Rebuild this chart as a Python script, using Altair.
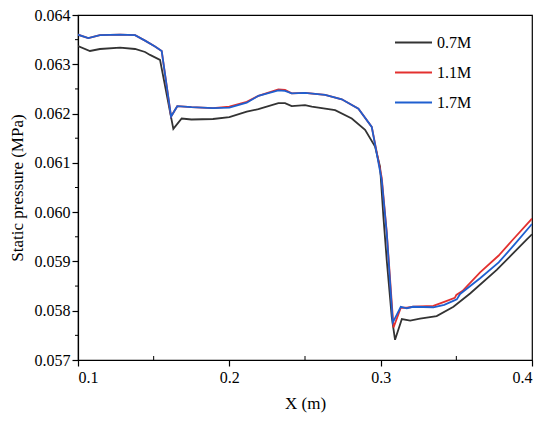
import altair as alt
import pandas as pd

# 0.7M series
x_07 = [0.100, 0.1079, 0.1145, 0.1278, 0.1377, 0.1443, 0.1476, 0.1542, 0.1630, 0.1685,
        0.175, 0.1892, 0.200, 0.2115, 0.2192, 0.2324, 0.2368, 0.2412, 0.2500, 0.2545,
        0.2699, 0.2809, 0.2897, 0.2963, 0.2996, 0.3018, 0.3040, 0.3073, 0.3095, 0.3140,
        0.3195, 0.3260, 0.3370, 0.3481, 0.3591, 0.3767, 0.3961, 0.400]
y_07 = [0.06337, 0.06327, 0.06331, 0.06334, 0.06331, 0.06325, 0.06319, 0.06309, 0.06169, 0.06190,
        0.06188, 0.06189, 0.06193, 0.06204, 0.06209, 0.06221, 0.06221, 0.06215, 0.06217, 0.06214,
        0.06207, 0.06190, 0.06167, 0.06133, 0.06092, 0.05991, 0.05903, 0.05788, 0.05741, 0.05783,
        0.05780, 0.05784, 0.05789, 0.05808, 0.05835, 0.05883, 0.05943, 0.05955]

# 1.1M series
x_11 = [0.100, 0.1068, 0.1145, 0.1278, 0.1377, 0.1443, 0.1509, 0.1553, 0.1615, 0.1656,
        0.175, 0.1892, 0.200, 0.2115, 0.2192, 0.2324, 0.2368, 0.2412, 0.2500, 0.2633,
        0.2743, 0.2853, 0.2941, 0.3007, 0.3040, 0.3085, 0.3133, 0.3173, 0.3214, 0.3348,
        0.3420, 0.3490, 0.3500, 0.3540, 0.3657, 0.3780, 0.3870, 0.400]
y_11 = [0.06360, 0.06353, 0.06359, 0.06360, 0.06359, 0.06348, 0.06336, 0.06327, 0.06194, 0.06215,
        0.06213, 0.06211, 0.06214, 0.06224, 0.06236, 0.06249, 0.06248, 0.06241, 0.06242, 0.06238,
        0.06229, 0.06210, 0.06173, 0.06070, 0.05960, 0.05766, 0.05806, 0.05806, 0.05808, 0.05810,
        0.05818, 0.05826, 0.05832, 0.05840, 0.05878, 0.05912, 0.05943, 0.05987]

# 1.7M series
x_17 = [0.100, 0.1068, 0.1145, 0.1278, 0.1377, 0.1443, 0.1509, 0.1553, 0.1615, 0.1656,
        0.175, 0.1892, 0.200, 0.2115, 0.2192, 0.2324, 0.2368, 0.2412, 0.2500, 0.2633,
        0.2743, 0.2853, 0.2941, 0.3007, 0.3040, 0.3080, 0.3133, 0.3173, 0.3214, 0.3348,
        0.3420, 0.3480, 0.3503, 0.3525, 0.3657, 0.3780, 0.3889, 0.400]
y_17 = [0.06360, 0.06353, 0.06359, 0.06360, 0.06359, 0.06348, 0.06336, 0.06327, 0.06194, 0.06215,
        0.06213, 0.06211, 0.06212, 0.06222, 0.06236, 0.06247, 0.06246, 0.06241, 0.06242, 0.06238,
        0.06229, 0.06210, 0.06173, 0.06065, 0.05958, 0.05776, 0.05808, 0.05805, 0.05808, 0.05807,
        0.05812, 0.05820, 0.05823, 0.05834, 0.05866, 0.05898, 0.05936, 0.05976]

series = ["0.7M", "1.1M", "1.7M"]
colors = ["#333333", "#e3302f", "#1f5fcf"]
x_ticks = [0.1, 0.2, 0.3, 0.4]
y_ticks = [0.057, 0.058, 0.059, 0.060, 0.061, 0.062, 0.063, 0.064]
x_minor = [0.15, 0.25, 0.35]
y_minor_vals = [0.0575, 0.0585, 0.0595, 0.0605, 0.0615, 0.0625, 0.0635]

rows = []
for name, xs, ys in zip(series, [x_07, x_11, x_17], [y_07, y_11, y_17]):
    for a, b in zip(xs, ys):
        rows.append({"x": a, "p": b, "series": name})
df = pd.DataFrame(rows)

FONT = "Liberation Serif, Times New Roman, DejaVu Serif, serif"
W, H = 454, 345

xscale = alt.Scale(domain=[0.1, 0.4], nice=False, zero=False)
yscale = alt.Scale(domain=[0.057, 0.064], nice=False, zero=False)

lines = alt.Chart(df).mark_line(strokeWidth=1.8, clip=True).encode(
    x=alt.X("x:Q", scale=xscale, title="X (m)",
            axis=alt.Axis(values=x_ticks, format=".1f", tickSize=6, labelPadding=3,
                          titlePadding=10, grid=False)),
    y=alt.Y("p:Q", scale=yscale, title="Static pressure (MPa)",
            axis=alt.Axis(values=y_ticks, format=".3f", tickSize=6, labelPadding=2,
                          titlePadding=8, grid=False)),
    color=alt.Color("series:N", scale=alt.Scale(domain=series, range=colors),
                    legend=alt.Legend(title=None, orient="none", legendX=316, legendY=8,
                                      symbolType="stroke", symbolSize=1369,
                                      symbolStrokeWidth=2, labelFontSize=16,
                                      labelFont=FONT, labelOffset=4, rowPadding=2)),
    order=alt.Order("x:Q"),
)

minor = pd.DataFrame({"x": x_minor})
minor_ticks = alt.Chart(minor).mark_rule(color="black", strokeWidth=1).encode(
    x=alt.X("x:Q", scale=xscale),
    y=alt.value(H - 4),
    y2=alt.value(H),
)

y_minor = pd.DataFrame({"p": y_minor_vals})
yminor_ticks = alt.Chart(y_minor).mark_rule(color="black", strokeWidth=1).encode(
    y=alt.Y("p:Q", scale=yscale),
    x=alt.value(-3),
    x2=alt.value(0),
)

chart = alt.layer(lines, minor_ticks, yminor_ticks).properties(
    width=W, height=H,
    autosize=alt.AutoSizeParams(type="none"),
    padding={"left": 70, "top": 7, "right": 10, "bottom": 60},
).configure_view(stroke="black", strokeWidth=1.2).configure_axis(
    labelFont=FONT, titleFont=FONT, labelFontSize=16, titleFontSize=17,
    titleFontWeight="normal", labelColor="black", titleColor="black",
    domainColor="black", tickColor="black", domainWidth=1.2, tickWidth=1.2,
).configure_legend(labelColor="black")

chart.save("out.html", embed_options={"renderer": "svg", "actions": False})
